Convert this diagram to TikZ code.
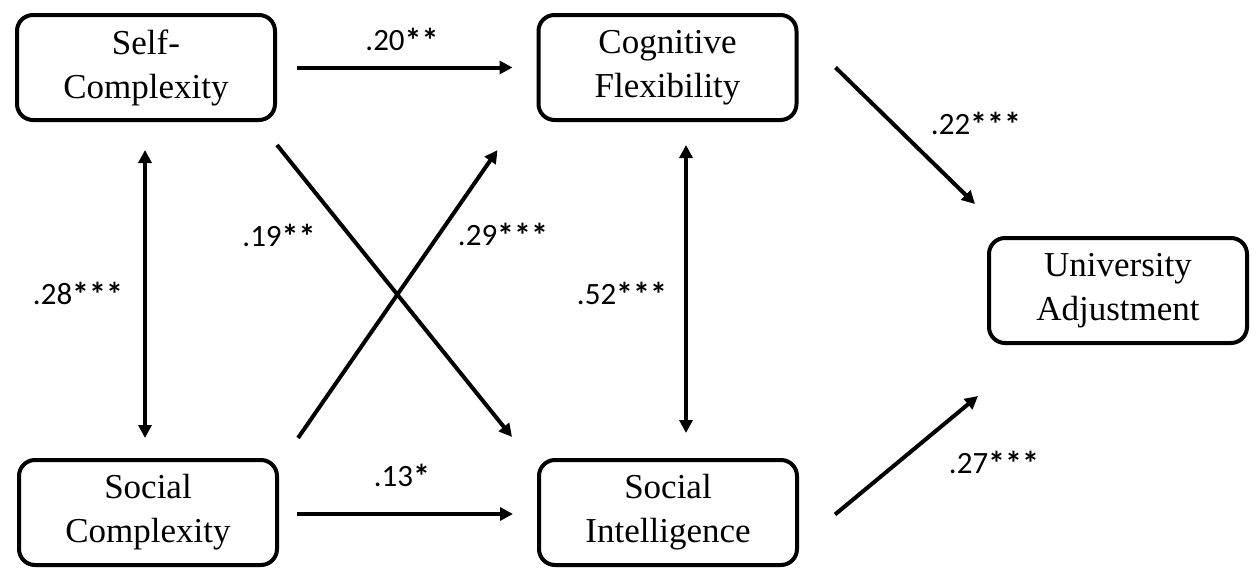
\documentclass[tikz,border=0pt]{standalone}
\usepackage{fontspec}
\setmainfont{Liberation Serif}
\newfontfamily\labelfont{Carlito}
\usetikzlibrary{arrows.meta,calc}
% significance marks, set a little larger than the digits
\newcommand\sigmark[1]{{\fontsize{34}{34}\selectfont\raisebox{-2pt}{\bfseries #1}}}
\begin{document}
\begin{tikzpicture}[x=1pt,y=-1pt,
  varbox/.style={draw,line width=4pt,rounded corners=16pt,
    minimum width=258pt,minimum height=105pt,align=center,
    font=\fontsize{35}{44}\selectfont},
  path/.style={line width=4pt,-{Triangle[length=13pt,width=13pt]}},
  twoway/.style={line width=4pt,{Triangle[length=13pt,width=13pt]}-{Triangle[length=13pt,width=13pt]}},
  coef/.style={font=\labelfont\fontsize{31}{32}\selectfont,inner sep=0pt}]
\useasboundingbox (0,0) rectangle (1256,570);

% variables
\node[varbox] (self) at (146,67.5) {Self-\\Complexity};
\node[varbox] (cog)  at (667.5,67.5) {Cognitive\\Flexibility};
\node[varbox] (uni)  at (1118,290.5) {University\\Adjustment};
\node[varbox] (soc)  at (148,512.5) {Social\\Complexity};
\node[varbox] (sint) at (668,512.5) {Social\\Intelligence};

% paths between the variables
\draw[path] ($(self.east)+(20,0)$) -- ($(cog.west)+(-24,0)$);
\draw[path] ($(soc.east)+(18,1.5)$) -- ($(sint.west)+(-24,1.5)$);
\draw[path] ($(self.south east)+(0,23)$) -- ($(sint.north west)+(-25,-21)$);
\draw[path] ($(soc.north east)+(19,-20)$) -- ($(cog.south west)+(-39,28)$);
\draw[path] ($(cog.east)+(37,0)$) -- ($(uni.north west)+(-12,-32)$);
\draw[path] ($(sint.east)+(36,2)$) -- ($(uni.south west)+(-9,51)$);
\draw[twoway] ($(self.south)+(-1,28)$) -- ($(soc.north)+(-3,-20)$);
\draw[twoway] ($(cog.south)+(18.5,23)$) -- ($(sint.north)+(18,-25)$);

% coefficients
\node[coef] (c1) at (402,40)  {.20\sigmark{**}};
\node[coef] (c2) at (402,476) {.13\sigmark{*}};
\node[coef] (c3) at (279,236) {.19\sigmark{**}};
\node[coef] (c4) at (503,235) {.29\sigmark{***}};
\node[coef] (c5) at (78,294)  {.28\sigmark{***}};
\node[coef] (c6) at (622,294) {.52\sigmark{***}};
\node[coef] (c7) at (976,124) {.22\sigmark{***}};
\node[coef] (c8) at (994,463) {.27\sigmark{***}};
\end{tikzpicture}
\end{document}
